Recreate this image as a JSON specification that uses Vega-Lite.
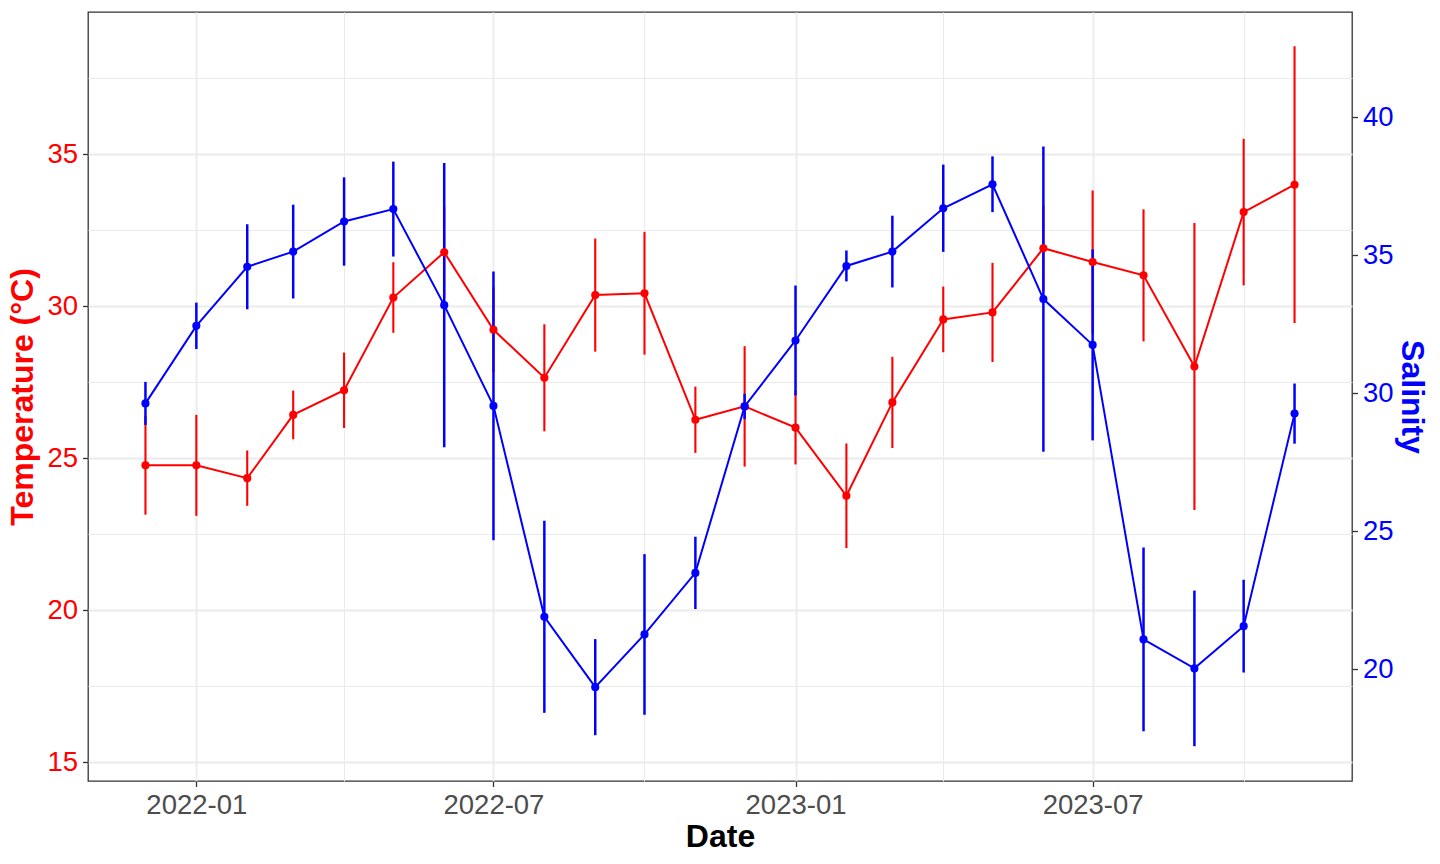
{
  "$schema": "https://vega.github.io/schema/vega-lite/v6.json",
  "width": 1264,
  "height": 769,
  "autosize": {"type": "none"},
  "padding": {"left": 88, "top": 12, "right": 88, "bottom": 83},
  "data": {
    "values": [
      {"date": "2021-12-01", "temp": 24.76, "temp_sd": 1.62, "sal": 29.64, "sal_sd": 0.78},
      {"date": "2022-01-01", "temp": 24.76, "temp_sd": 1.66, "sal": 32.45, "sal_sd": 0.84},
      {"date": "2022-02-01", "temp": 24.34, "temp_sd": 0.91, "sal": 34.59, "sal_sd": 1.54},
      {"date": "2022-03-01", "temp": 26.42, "temp_sd": 0.80, "sal": 35.14, "sal_sd": 1.70},
      {"date": "2022-04-01", "temp": 27.23, "temp_sd": 1.24, "sal": 36.23, "sal_sd": 1.60},
      {"date": "2022-05-01", "temp": 30.28, "temp_sd": 1.16, "sal": 36.68, "sal_sd": 1.72},
      {"date": "2022-06-01", "temp": 31.77, "temp_sd": 1.50, "sal": 33.20, "sal_sd": 5.15},
      {"date": "2022-07-01", "temp": 29.22, "temp_sd": 1.40, "sal": 29.55, "sal_sd": 4.87},
      {"date": "2022-08-01", "temp": 27.64, "temp_sd": 1.76, "sal": 21.91, "sal_sd": 3.48},
      {"date": "2022-09-01", "temp": 30.36, "temp_sd": 1.86, "sal": 19.36, "sal_sd": 1.74},
      {"date": "2022-10-01", "temp": 30.42, "temp_sd": 2.02, "sal": 21.27, "sal_sd": 2.91},
      {"date": "2022-11-01", "temp": 26.26, "temp_sd": 1.09, "sal": 23.50, "sal_sd": 1.31},
      {"date": "2022-12-01", "temp": 26.70, "temp_sd": 1.98, "sal": 29.53, "sal_sd": 0.46},
      {"date": "2023-01-01", "temp": 26.00, "temp_sd": 1.21, "sal": 31.92, "sal_sd": 1.99},
      {"date": "2023-02-01", "temp": 23.76, "temp_sd": 1.72, "sal": 34.62, "sal_sd": 0.56},
      {"date": "2023-03-01", "temp": 26.83, "temp_sd": 1.50, "sal": 35.14, "sal_sd": 1.30},
      {"date": "2023-04-01", "temp": 29.56, "temp_sd": 1.08, "sal": 36.71, "sal_sd": 1.58},
      {"date": "2023-05-01", "temp": 29.79, "temp_sd": 1.63, "sal": 37.58, "sal_sd": 1.01},
      {"date": "2023-06-01", "temp": 31.90, "temp_sd": 1.40, "sal": 33.42, "sal_sd": 5.53},
      {"date": "2023-07-01", "temp": 31.45, "temp_sd": 2.35, "sal": 31.76, "sal_sd": 3.46},
      {"date": "2023-08-01", "temp": 31.01, "temp_sd": 2.17, "sal": 21.09, "sal_sd": 3.33},
      {"date": "2023-09-01", "temp": 28.01, "temp_sd": 4.72, "sal": 20.04, "sal_sd": 2.82},
      {"date": "2023-10-01", "temp": 33.09, "temp_sd": 2.41, "sal": 21.57, "sal_sd": 1.68},
      {"date": "2023-11-01", "temp": 33.99, "temp_sd": 4.55, "sal": 29.27, "sal_sd": 1.09}
    ]
  },
  "encoding": {
    "x": {
      "field": "date",
      "type": "temporal",
      "scale": {
        "type": "utc",
        "domain": [
          {"year": 2021, "month": 10, "date": 27, "utc": true},
          {"year": 2023, "month": 12, "date": 6, "utc": true}
        ]
      },
      "axis": {
        "title": "Date",
        "titleColor": "black",
        "titlePadding": 2,
        "labelColor": "#4D4D4D",
        "labelPadding": 5,
        "labelFlush": false,
        "values": [
          {"year": 2022, "month": 1, "date": 1, "utc": true},
          {"year": 2022, "month": 4, "date": 1, "utc": true},
          {"year": 2022, "month": 7, "date": 1, "utc": true},
          {"year": 2022, "month": 10, "date": 1, "utc": true},
          {"year": 2023, "month": 1, "date": 1, "utc": true},
          {"year": 2023, "month": 4, "date": 1, "utc": true},
          {"year": 2023, "month": 7, "date": 1, "utc": true},
          {"year": 2023, "month": 10, "date": 1, "utc": true}
        ],
        "labelExpr": "utcmonth(datum.value) % 6 === 0 ? utcFormat(datum.value, '%Y-%m') : ''",
        "tickOpacity": {"condition": {"test": "utcmonth(datum.value) % 6 === 0", "value": 1}, "value": 0},
        "gridWidth": {"condition": {"test": "utcmonth(datum.value) % 6 === 0", "value": 1.8}, "value": 1}
      }
    }
  },
  "layer": [
    {
      "mark": {"type": "errorbar", "color": "red", "thickness": 2.1},
      "encoding": {
        "y": {
          "field": "temp",
          "type": "quantitative",
          "scale": {"domain": [14.38, 39.67], "nice": false, "zero": false},
          "axis": null
        },
        "yError": {"field": "temp_sd"}
      }
    },
    {
      "mark": {"type": "errorbar", "color": "blue", "thickness": 2.5},
      "encoding": {
        "y": {
          "field": "sal",
          "type": "quantitative",
          "scale": {"domain": [15.96, 43.82], "nice": false, "zero": false},
          "axis": null
        },
        "yError": {"field": "sal_sd"}
      }
    },
    {
      "mark": {
        "type": "line",
        "color": "red",
        "strokeWidth": 2,
        "point": {"filled": true, "size": 66, "color": "red", "opacity": 1}
      },
      "encoding": {
        "y": {
          "field": "temp",
          "type": "quantitative",
          "scale": {"domain": [14.38, 39.67], "nice": false, "zero": false},
          "axis": {
            "orient": "left",
            "title": "Temperature (°C)",
            "titleColor": "red",
            "titlePadding": 7,
            "labelColor": "red",
            "labelPadding": 5,
            "grid": true,
            "values": [15, 17.5, 20, 22.5, 25, 27.5, 30, 32.5, 35, 37.5],
            "labelExpr": "datum.value % 5 === 0 ? format(datum.value, 'd') : ''",
            "tickOpacity": {"condition": {"test": "datum.value % 5 === 0", "value": 1}, "value": 0},
            "gridWidth": {"condition": {"test": "datum.value % 5 === 0", "value": 1.8}, "value": 1}
          }
        }
      }
    },
    {
      "mark": {
        "type": "line",
        "color": "blue",
        "strokeWidth": 2,
        "point": {"filled": true, "size": 66, "color": "blue", "opacity": 1}
      },
      "encoding": {
        "y": {
          "field": "sal",
          "type": "quantitative",
          "scale": {"domain": [15.96, 43.82], "nice": false, "zero": false},
          "axis": {
            "orient": "right",
            "title": "Salinity",
            "titleColor": "blue",
            "titlePadding": 1,
            "labelColor": "blue",
            "labelPadding": 5,
            "grid": false,
            "values": [20, 25, 30, 35, 40],
            "format": "d"
          }
        }
      }
    }
  ],
  "resolve": {"scale": {"y": "independent"}},
  "config": {
    "font": "Liberation Sans",
    "background": "white",
    "view": {"stroke": "#333333", "strokeWidth": 1.3},
    "axis": {
      "domain": false,
      "tickColor": "#333333",
      "tickWidth": 1.3,
      "tickSize": 5.5,
      "labelFontSize": 27.5,
      "labelFont": "Liberation Sans",
      "titleFont": "Liberation Sans",
      "titleFontSize": 32,
      "titleFontWeight": "bold",
      "gridColor": "#EBEBEB",
      "labelOverlap": false
    }
  }
}
